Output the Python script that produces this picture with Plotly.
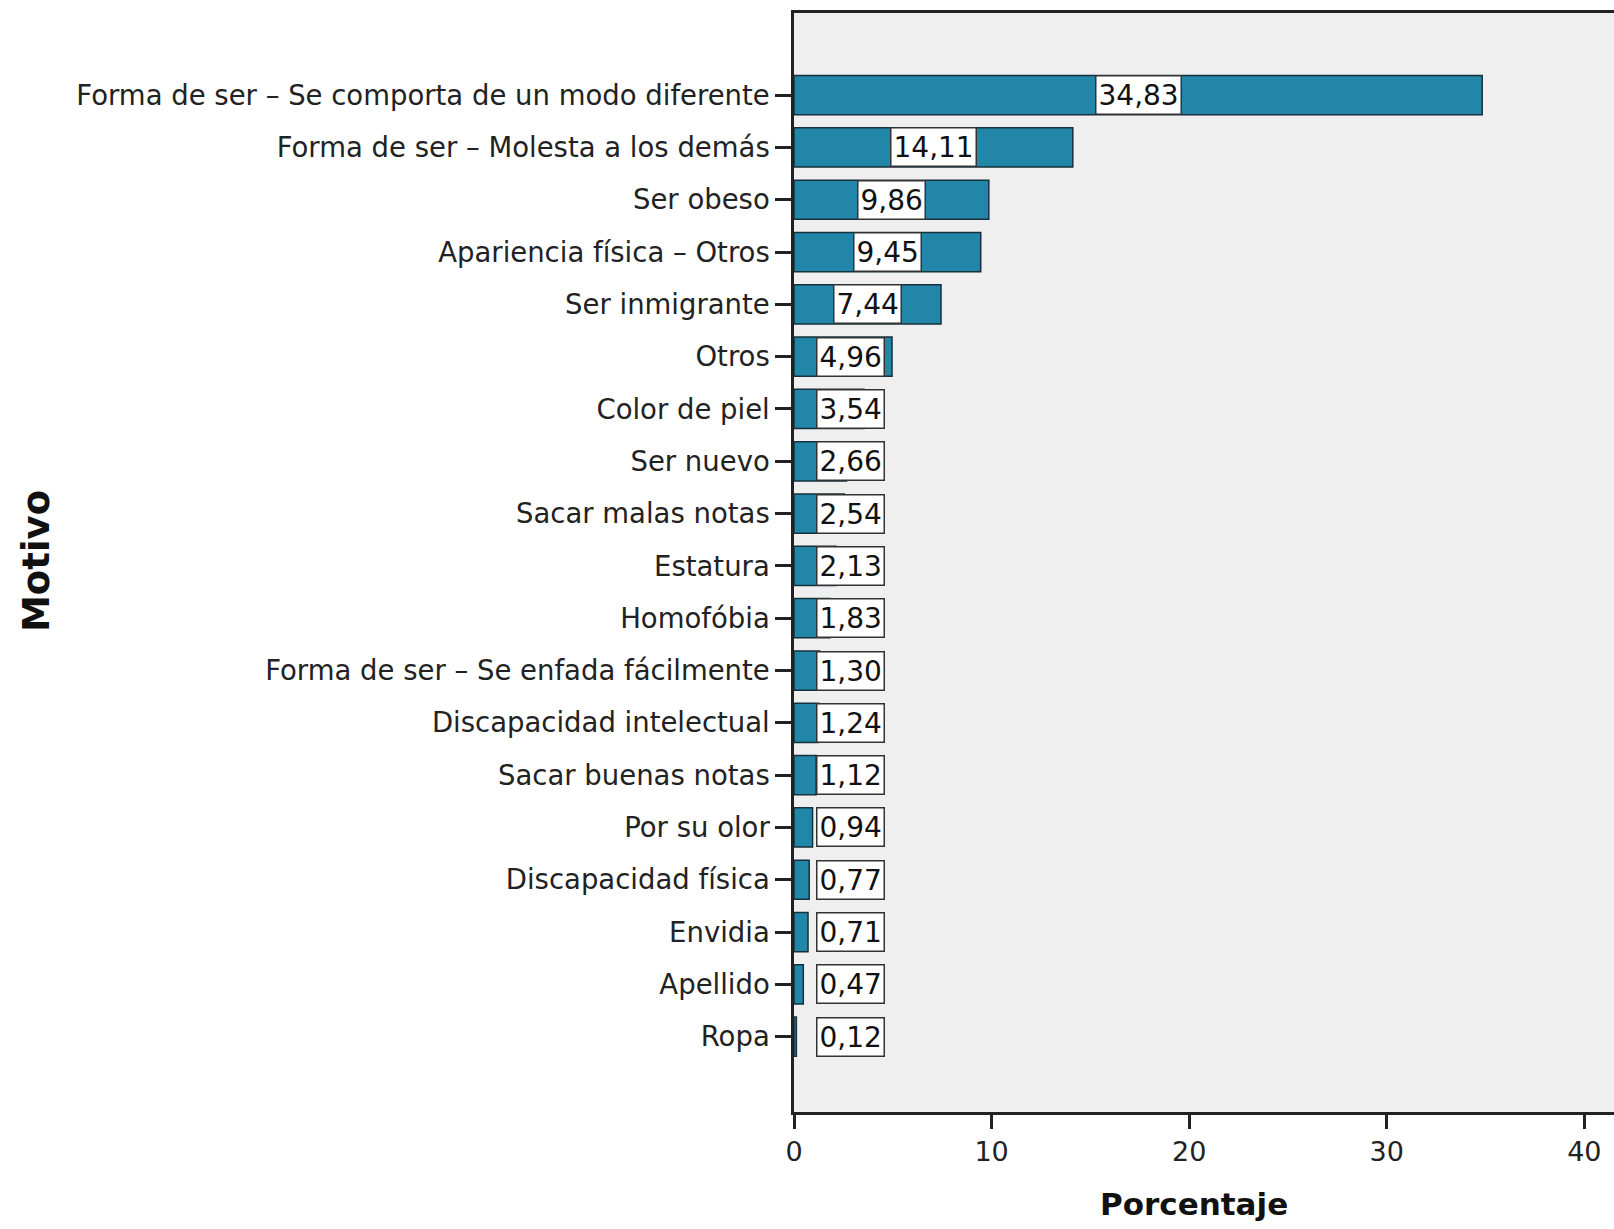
import plotly.graph_objects as go

categories = [
    "Forma de ser – Se comporta de un modo diferente",
    "Forma de ser – Molesta a los demás",
    "Ser obeso",
    "Apariencia física – Otros",
    "Ser inmigrante",
    "Otros",
    "Color de piel",
    "Ser nuevo",
    "Sacar malas notas",
    "Estatura",
    "Homofóbia",
    "Forma de ser – Se enfada fácilmente",
    "Discapacidad intelectual",
    "Sacar buenas notas",
    "Por su olor",
    "Discapacidad física",
    "Envidia",
    "Apellido",
    "Ropa",
]
values = [34.83, 14.11, 9.86, 9.45, 7.44, 4.96, 3.54, 2.66, 2.54, 2.13,
          1.83, 1.30, 1.24, 1.12, 0.94, 0.77, 0.71, 0.47, 0.12]
x_ticks = [0, 10, 20, 30, 40]

FONT = "DejaVu Sans"
n = len(categories)

W, H = 1614, 1229
L, T, B, R = 794, 13, 117, 0
PW, PH = W - L - R, H - T - B

fig = go.Figure()
fig.add_trace(go.Bar(
    y=list(range(n)), x=values, orientation="h",
    marker=dict(color="#2186A8", line=dict(color="#17303d", width=1.5)),
    width=0.75, hoverinfo="x+y",
))

for i, v in enumerate(values):
    fig.add_annotation(
        x=max(v / 2, 2.85), y=i, xref="x", yref="y",
        text=f"{v:.2f}".replace(".", ","),
        showarrow=False,
        font=dict(family=FONT, size=28, color="#111111"),
        bgcolor="white", bordercolor="#333333", borderwidth=1.5, borderpad=2,
    )

fig.update_layout(
    width=W, height=H,
    margin=dict(l=L, r=R, t=T, b=B, pad=0),
    paper_bgcolor="white", plot_bgcolor="#EFEFEF",
    showlegend=False,
    font=dict(family=FONT, color="#111111"),
)
fig.update_xaxes(
    range=[0, 41.5], tickvals=x_ticks, ticktext=[str(t) for t in x_ticks],
    showgrid=False, zeroline=False,
    showline=True, linecolor="#222222", linewidth=2.5, mirror=True,
    ticks="outside", ticklen=14, tickwidth=2.5, tickcolor="#222222",
    tickfont=dict(family=FONT, size=27, color="#222222"),
)
fig.update_yaxes(
    range=[n - 1 + 1.44, -1.57], tickvals=list(range(n)), ticktext=categories,
    showgrid=False, zeroline=False,
    showline=True, linecolor="#222222", linewidth=2.5,
    ticks="outside", ticklen=16, tickwidth=2.5, tickcolor="#222222",
    tickfont=dict(family=FONT, size=27.5, color="#222222"),
)


def px_to_paper(px, py):
    return (px - L) / PW, 1 - (py - T) / PH


mx, my = px_to_paper(36, 561)
fig.add_annotation(
    x=mx, y=my, xref="paper", yref="paper", text="<b>Motivo</b>",
    xanchor="center", yanchor="middle",
    showarrow=False, textangle=-90,
    font=dict(family=FONT, size=37, color="#111111"),
)
px_, py_ = px_to_paper(1194, 1204)
fig.add_annotation(
    x=px_, y=py_, xref="paper", yref="paper", text="<b>Porcentaje</b>",
    xanchor="center", yanchor="middle",
    showarrow=False,
    font=dict(family=FONT, size=31, color="#111111"),
)
fig.write_html(
    "out.html",
    config={"displayModeBar": False},
    post_script="document.body.style.margin='0';document.body.style.overflow='hidden';",
)
